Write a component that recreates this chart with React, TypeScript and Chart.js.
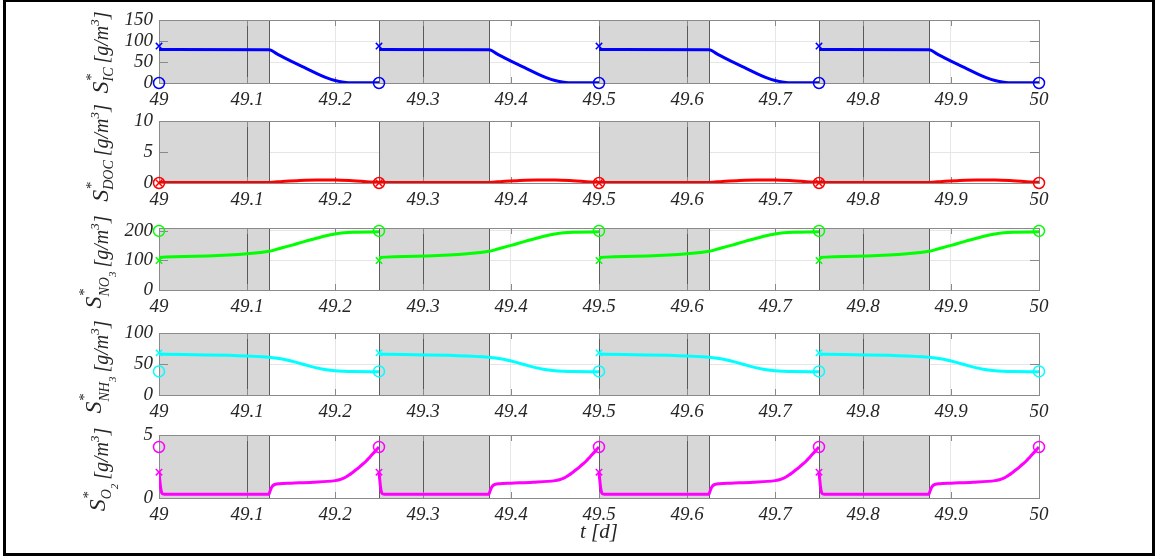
import React, { useEffect, useRef } from "react";
import { Chart, registerables } from "chart.js";

Chart.register(...registerables);

// ---- axis ticks ----
const X_TICKS = [49, 49.1, 49.2, 49.3, 49.4, 49.5, 49.6, 49.7, 49.8, 49.9, 50];
const X_TICK_LABELS = ["49", "49.1", "49.2", "49.3", "49.4", "49.5", "49.6", "49.7", "49.8", "49.9", "50"];

// ---- cycle structure (days) ----
const CYCLE_STARTS = [49, 49.25, 49.5, 49.75];
const CYCLE_ENDS = [49.25, 49.5, 49.75, 50];
const SHADE_STARTS = [49, 49.25, 49.5, 49.75];
const SHADE_ENDS = [49.125, 49.375, 49.625, 49.875];

// ---- within-cycle profiles (offset from cycle start, value) ----
const IC_T = [0, 0.125, 0.135, 0.15, 0.165, 0.18, 0.19, 0.2, 0.21, 0.22, 0.25];
const IC_V = [80, 79, 68, 52, 37, 22, 13, 6, 2, 0.6, 0.3];

const DOC_T = [0, 0.125, 0.14, 0.16, 0.18, 0.2, 0.22, 0.24, 0.25];
const DOC_V = [0.1, 0.1, 0.25, 0.42, 0.5, 0.5, 0.38, 0.18, 0.12];

const NO3_T = [0, 0.125, 0.135, 0.15, 0.165, 0.18, 0.19, 0.2, 0.21, 0.22, 0.25];
const NO3_V = [110, 131, 139, 151, 164, 176, 184, 190, 194, 196, 197];

const NH3_T = [0, 0.125, 0.14, 0.155, 0.17, 0.185, 0.2, 0.21, 0.22, 0.25];
const NH3_V = [66, 61, 58, 53, 47, 42, 39, 38.2, 37.8, 37.5];

const O2_T = [0, 0.0017, 0.003, 0.0045, 0.006, 0.125, 0.1255, 0.127, 0.129, 0.132, 0.137, 0.15, 0.175, 0.2, 0.205, 0.21, 0.215, 0.22, 0.225, 0.23, 0.235, 0.24, 0.245, 0.25];
const O2_V = [2.05, 0.9, 0.42, 0.32, 0.3, 0.3, 0.4, 0.7, 0.95, 1.08, 1.14, 1.18, 1.25, 1.38, 1.45, 1.57, 1.78, 2.03, 2.3, 2.6, 2.9, 3.28, 3.66, 4.05];

// ---- initial (x) and final (o) markers ----
const X_MARK_TIMES = [49, 49.25, 49.5, 49.75];
const O_MARK_TIMES = [49, 49.25, 49.5, 49.75, 50];
const IC_X = 88, IC_O = 0;
const DOC_X = 0, DOC_O = 0;
const NO3_X = 100, NO3_O = 200;
const NH3_X = 68, NH3_O = 38;
const O2_X = 2.05, O2_O = 4.05;

// ---- y axes ----
const IC_YTICKS = [0, 50, 100, 150];
const DOC_YTICKS = [0, 5, 10];
const NO3_YTICKS = [0, 100, 200];
const NH3_YTICKS = [0, 50, 100];
const O2_YTICKS = [0, 5];

const FONT = '"Liberation Serif", "Times New Roman", serif';
const TEXT = "#262626";
const W = 1155;
const PLOT_LEFT = 159;
const PLOT_RIGHT = 1039;
const PAD_TOP = 24;
const XAXIS_H = 40;
const TITLE_SPACE = 30;

type Seg = { t: string; s: number; dy: number; stack?: boolean; gap?: number };

type Panel = {
  top: number;
  height: number;
  yMax: number;
  yTicks: number[];
  color: string;
  t: number[];
  v: number[];
  xMark: number;
  oMark: number;
  label: Seg[];
  labelShift: number;
  last?: boolean;
};

const unitSegs: Seg[] = [
  { t: "[g/m", s: 20, dy: 0, gap: 4 },
  { t: "3", s: 13, dy: -9 },
  { t: "]", s: 20, dy: 0 },
];

const PANELS: Panel[] = [
  {
    top: 20, height: 63, yMax: 150, yTicks: IC_YTICKS, color: "#0000ff",
    t: IC_T, v: IC_V, xMark: IC_X, oMark: IC_O, labelShift: 1,
    label: [
      { t: "S", s: 24, dy: 0 },
      { t: "*", s: 15, dy: -12 },
      { t: "IC", s: 14, dy: 5, stack: true },
      ...unitSegs,
    ],
  },
  {
    top: 121, height: 62, yMax: 10, yTicks: DOC_YTICKS, color: "#ff0000",
    t: DOC_T, v: DOC_V, xMark: DOC_X, oMark: DOC_O, labelShift: 1,
    label: [
      { t: "S", s: 24, dy: 0 },
      { t: "*", s: 15, dy: -12 },
      { t: "DOC", s: 14, dy: 5, stack: true },
      ...unitSegs,
    ],
  },
  {
    top: 228, height: 62, yMax: 210, yTicks: NO3_YTICKS, color: "#00ff00",
    t: NO3_T, v: NO3_V, xMark: NO3_X, oMark: NO3_O, labelShift: 3,
    label: [
      { t: "S", s: 24, dy: -7 },
      { t: "*", s: 15, dy: -19 },
      { t: "NO", s: 14, dy: 1, stack: true },
      { t: "3", s: 11, dy: 8 },
      ...unitSegs,
    ],
  },
  {
    top: 333, height: 62, yMax: 100, yTicks: NH3_YTICKS, color: "#00ffff",
    t: NH3_T, v: NH3_V, xMark: NH3_X, oMark: NH3_O, labelShift: 3,
    label: [
      { t: "S", s: 24, dy: -7 },
      { t: "*", s: 15, dy: -19 },
      { t: "NH", s: 14, dy: 1, stack: true },
      { t: "3", s: 11, dy: 8 },
      ...unitSegs,
    ],
  },
  {
    top: 435, height: 63, yMax: 5, yTicks: O2_YTICKS, color: "#ff00ff",
    t: O2_T, v: O2_V, xMark: O2_X, oMark: O2_O, labelShift: 3, last: true,
    label: [
      { t: "S", s: 24, dy: -3 },
      { t: "*", s: 15, dy: -15 },
      { t: "O", s: 14, dy: 3, stack: true },
      { t: "2", s: 11, dy: 10 },
      ...unitSegs,
    ],
  },
];

function segFont(s: number) {
  return `italic ${s}px ${FONT}`;
}

// Rotated axis title with sub/superscripts, centred on (cx, cy).
function drawYLabel(ctx: CanvasRenderingContext2D, segs: Seg[], cx: number, cy: number) {
  const starts: number[] = [];
  let x = 0;
  let prevStart = 0;
  let prevW = 0;
  segs.forEach((g, i) => {
    ctx.font = segFont(g.s);
    const w = ctx.measureText(g.t).width;
    let start: number;
    if (g.stack) {
      start = prevStart;
      x = start + Math.max(prevW, w);
    } else {
      start = x + (g.gap || 0);
      x = start + w;
    }
    starts[i] = start;
    prevStart = start;
    prevW = w;
  });
  const total = x;
  ctx.save();
  ctx.translate(cx, cy);
  ctx.rotate(-Math.PI / 2);
  ctx.fillStyle = TEXT;
  ctx.textBaseline = "alphabetic";
  ctx.textAlign = "left";
  segs.forEach((g, i) => {
    ctx.font = segFont(g.s);
    ctx.fillText(g.t, starts[i] - total / 2, g.dy);
  });
  ctx.restore();
}

function buildLine(t: number[], v: number[]) {
  const pts: { x: number; y: number | null }[] = [];
  CYCLE_STARTS.forEach((c0, k) => {
    t.forEach((dt, i) => pts.push({ x: c0 + dt, y: v[i] }));
    if (k < CYCLE_STARTS.length - 1) pts.push({ x: CYCLE_ENDS[k], y: null });
  });
  return pts;
}

function PanelChart({ p }: { p: Panel }) {
  const ref = useRef<HTMLCanvasElement | null>(null);
  useEffect(() => {
    const canvas = ref.current;
    if (!canvas) return;

    const decor = {
      id: "decor",
      beforeDatasetsDraw(chart: any) {
        const { ctx, chartArea: a, scales } = chart;
        const xs = scales.x;
        const ys = scales.y;
        ctx.save();
        // shaded phases
        SHADE_STARTS.forEach((s0, i) => {
          const x0 = Math.round(xs.getPixelForValue(s0)) + 0.5;
          const x1 = Math.round(xs.getPixelForValue(SHADE_ENDS[i])) + 0.5;
          ctx.fillStyle = "#d7d7d7";
          ctx.fillRect(x0, a.top, x1 - x0, a.bottom - a.top);
          ctx.strokeStyle = "#5e5e5e";
          ctx.lineWidth = 1;
          ctx.strokeRect(x0, Math.round(a.top) + 0.5, x1 - x0, Math.round(a.bottom - a.top));
          // grid lines seen through the shaded area
          X_TICKS.forEach((tv) => {
            if (tv > s0 + 1e-9 && tv < SHADE_ENDS[i] - 1e-9) {
              const gx = Math.round(xs.getPixelForValue(tv)) + 0.5;
              ctx.strokeStyle = "#5a5a5a";
              ctx.beginPath();
              ctx.moveTo(gx, a.top);
              ctx.lineTo(gx, a.bottom);
              ctx.stroke();
            }
          });
        });
        // inward tick marks
        ctx.strokeStyle = "#8a8a8a";
        ctx.lineWidth = 1;
        X_TICKS.forEach((tv) => {
          const gx = Math.round(xs.getPixelForValue(tv)) + 0.5;
          ctx.beginPath();
          ctx.moveTo(gx, a.bottom);
          ctx.lineTo(gx, a.bottom - 6);
          ctx.moveTo(gx, a.top);
          ctx.lineTo(gx, a.top + 6);
          ctx.stroke();
        });
        p.yTicks.forEach((tv) => {
          const gy = Math.round(ys.getPixelForValue(tv)) + 0.5;
          ctx.beginPath();
          ctx.moveTo(a.left, gy);
          ctx.lineTo(a.left + 9, gy);
          ctx.moveTo(a.right, gy);
          ctx.lineTo(a.right - 9, gy);
          ctx.stroke();
        });
        // axes box
        ctx.strokeStyle = "#8a8a8a";
        ctx.strokeRect(Math.round(a.left) + 0.5, Math.round(a.top) + 0.5, Math.round(a.right - a.left), Math.round(a.bottom - a.top));
        ctx.restore();
      },
      afterDraw(chart: any) {
        const { ctx, chartArea: a } = chart;
        drawYLabel(ctx, p.label, 108, (a.top + a.bottom) / 2 + p.labelShift);
        if (p.last) {
          ctx.save();
          ctx.fillStyle = TEXT;
          ctx.font = `italic 21px ${FONT}`;
          ctx.textAlign = "center";
          ctx.textBaseline = "middle";
          ctx.fillText("t [d]", (a.left + a.right) / 2, a.bottom + 34);
          ctx.restore();
        }
      },
    };

    const tickFont = { family: FONT, style: "italic" as const, size: 19 };

    const chart = new Chart(canvas, {
      type: "line",
      data: {
        datasets: [
          {
            data: buildLine(p.t, p.v) as any,
            borderColor: p.color,
            borderWidth: 3,
            pointRadius: 0,
            spanGaps: false,
            cubicInterpolationMode: "monotone",
            order: 3,
          },
          {
            data: X_MARK_TIMES.map((x) => ({ x, y: p.xMark })) as any,
            showLine: false,
            pointStyle: "crossRot",
            pointRadius: 4.5,
            borderColor: p.color,
            borderWidth: 1.5,
            clip: false as any,
            order: 1,
          },
          {
            data: O_MARK_TIMES.map((x) => ({ x, y: p.oMark })) as any,
            showLine: false,
            pointStyle: "circle",
            pointRadius: 5.5,
            borderColor: p.color,
            backgroundColor: "rgba(0,0,0,0)",
            borderWidth: 1.5,
            clip: false as any,
            order: 2,
          },
        ],
      },
      options: {
        responsive: false,
        animation: false,
        devicePixelRatio: 1,
        events: [],
        layout: {
          padding: { left: 0, right: W - PLOT_RIGHT, top: PAD_TOP, bottom: p.last ? TITLE_SPACE : 0 },
        },
        plugins: { legend: { display: false }, tooltip: { enabled: false } },
        scales: {
          x: {
            type: "linear",
            min: 49,
            max: 50,
            afterBuildTicks: (s: any) => {
              s.ticks = X_TICKS.map((value) => ({ value }));
            },
            afterFit: (s: any) => {
              s.height = XAXIS_H;
            },
            ticks: {
              autoSkip: false,
              maxRotation: 0,
              padding: 6,
              color: TEXT,
              font: tickFont,
              callback: (_v: any, i: number) => X_TICK_LABELS[i],
            },
            grid: { color: "#e6e6e6", drawTicks: false },
            border: { display: false },
          },
          y: {
            type: "linear",
            min: 0,
            max: p.yMax,
            afterBuildTicks: (s: any) => {
              s.ticks = p.yTicks.map((value) => ({ value }));
            },
            afterFit: (s: any) => {
              s.width = PLOT_LEFT;
            },
            ticks: {
              autoSkip: false,
              padding: 6,
              color: TEXT,
              font: tickFont,
              callback: (v: any) => String(v),
            },
            grid: { color: "#e6e6e6", drawTicks: false },
            border: { display: false },
          },
        },
      },
      plugins: [decor],
    });
    return () => chart.destroy();
  }, [p]);

  const h = PAD_TOP + p.height + XAXIS_H + (p.last ? TITLE_SPACE : 0);
  return (
    <canvas
      ref={ref}
      width={W}
      height={h}
      style={{ position: "absolute", left: 0, top: p.top - PAD_TOP, width: W, height: h }}
    />
  );
}

export default function App() {
  return (
    <div
      style={{
        position: "fixed",
        left: 0,
        top: 0,
        width: W,
        height: 559,
        background: "#ffffff",
        overflow: "hidden",
      }}
    >
      {PANELS.map((p, i) => (
        <PanelChart key={i} p={p} />
      ))}
      <div
        style={{
          position: "absolute",
          left: 3,
          top: -1,
          width: W - 3,
          height: 557,
          border: "3px solid #000",
          boxSizing: "border-box",
          pointerEvents: "none",
        }}
      />
    </div>
  );
}
